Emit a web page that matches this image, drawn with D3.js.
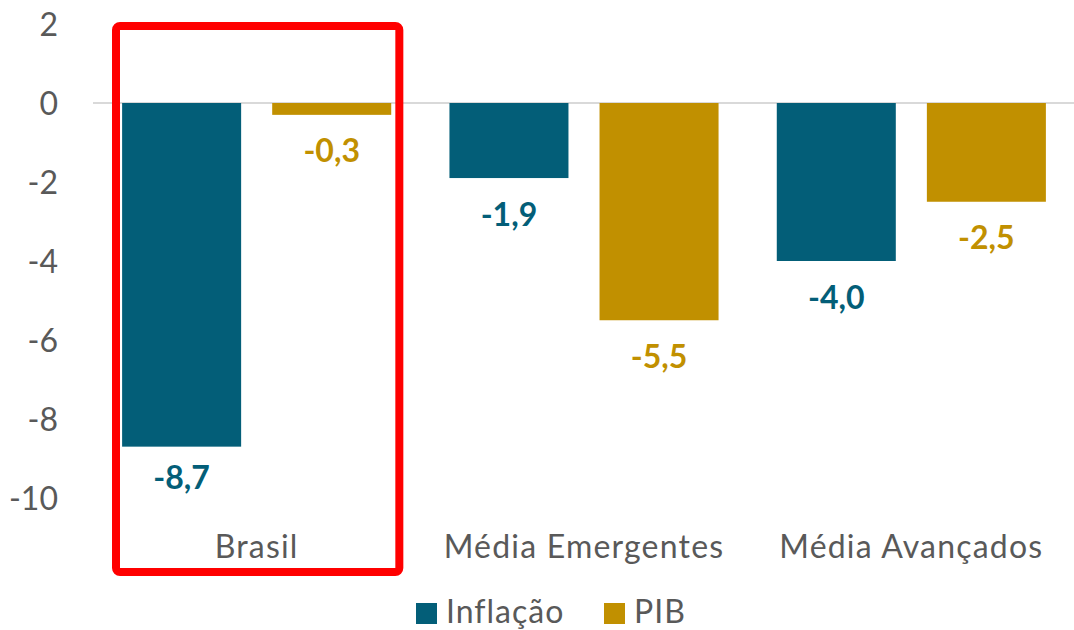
<!DOCTYPE html>
<html>
<head>
<meta charset="utf-8">
<script src="https://cdn.jsdelivr.net/npm/d3@7"></script>
<style>
  html, body { margin: 0; padding: 0; background: #ffffff; }
  svg { display: block; font-family: Lato, "Open Sans", sans-serif; }
</style>
</head>
<body>
<svg id="chart" width="1074" height="630"></svg>
<script>
// Data
const categories = ["Brasil", "Média Emergentes", "Média Avançados"];
const seriesNames = ["Inflação", "PIB"];
const inflacao = [-8.7, -1.9, -4.0];
const pib = [-0.3, -5.5, -2.5];
const yTicks = [2, 0, -2, -4, -6, -8, -10];
const highlighted = "Brasil";

const colors = { "Inflação": "#035E78", "PIB": "#C19000" };
const textGray = "#595959";

const svg = d3.select("#chart");
const plot = { left: 93, right: 1075, top: 24, bottom: 498 };

const x = d3.scaleBand().domain(categories).range([plot.left, plot.right]).padding(0);
const xs = d3.scaleBand().domain(seriesNames).range([0, x.bandwidth()])
  .paddingInner(0.207).paddingOuter(0.194);
const y = d3.scaleLinear().domain([-10, 2]).range([plot.bottom, plot.top]);

const fmt = v => d3.format(".1f")(v).replace("−", "-").replace(".", ",");

// Y axis labels
const yAxis = d3.axisLeft(y).tickValues(yTicks).tickSize(0).tickPadding(0)
  .tickFormat(d => String(d));
const gy = svg.append("g").attr("transform", `translate(58,0)`).call(yAxis);
gy.select(".domain").remove();
gy.selectAll("text")
  .attr("fill", textGray)
  .style("font-size", "32px")
  .style("font-family", "Lato, 'Open Sans', sans-serif")
  .attr("dy", "0.36em");

// Zero line
svg.append("line")
  .attr("x1", plot.left).attr("x2", plot.right)
  .attr("y1", y(0)).attr("y2", y(0))
  .attr("stroke", "#D9D9D9").attr("stroke-width", 2);

const rows = categories.map((c, i) => ({ cat: c, values: [
  { s: "Inflação", v: inflacao[i] },
  { s: "PIB", v: pib[i] }
]}));

const groups = svg.selectAll("g.cat").data(rows).enter().append("g")
  .attr("class", "cat")
  .attr("transform", d => `translate(${x(d.cat)},0)`);

groups.selectAll("rect").data(d => d.values).enter().append("rect")
  .attr("x", d => xs(d.s))
  .attr("width", xs.bandwidth())
  .attr("y", d => y(Math.max(0, d.v)))
  .attr("height", d => Math.abs(y(d.v) - y(0)))
  .attr("fill", d => colors[d.s]);

// Value labels below each bar, kept inside the plot area
groups.selectAll("text.val").data(d => d.values).enter().append("text")
  .attr("class", "val")
  .attr("x", d => xs(d.s) + xs.bandwidth() / 2)
  .attr("y", d => Math.min(y(d.v) + 36, plot.bottom - 21))
  .attr("dy", "0.36em")
  .attr("text-anchor", "middle")
  .attr("fill", d => colors[d.s])
  .style("font-size", "32px")
  .style("font-weight", "700")
  .text(d => fmt(d.v));

// Category labels
svg.selectAll("text.cat").data(categories).enter().append("text")
  .attr("class", "cat")
  .attr("x", d => x(d) + x.bandwidth() / 2)
  .attr("y", 558)
  .attr("text-anchor", "middle")
  .attr("fill", textGray)
  .style("font-size", "32px")
  .style("letter-spacing", "1.2px")
  .text(d => d);

// Highlight frame around Brasil
const hx = x(highlighted);
svg.append("rect")
  .attr("x", hx + 23)
  .attr("y", y(2) + 2)
  .attr("width", x.bandwidth() - 44)
  .attr("height", 572 - (y(2) + 2))
  .attr("rx", 4)
  .attr("fill", "none")
  .attr("stroke", "#FF0000")
  .attr("stroke-width", 8);

// Legend
const legendItems = [
  { s: "Inflação", x: 416 },
  { s: "PIB", x: 604 }
];
const lg = svg.selectAll("g.legend").data(legendItems).enter().append("g")
  .attr("class", "legend")
  .attr("transform", d => `translate(${d.x},603)`);
lg.append("rect").attr("width", 21).attr("height", 21).attr("fill", d => colors[d.s]);
lg.append("text")
  .attr("x", 30).attr("y", 20)
  .attr("fill", textGray)
  .style("font-size", "32px")
  .style("letter-spacing", "1px")
  .text(d => d.s);
</script>
</body>
</html>
